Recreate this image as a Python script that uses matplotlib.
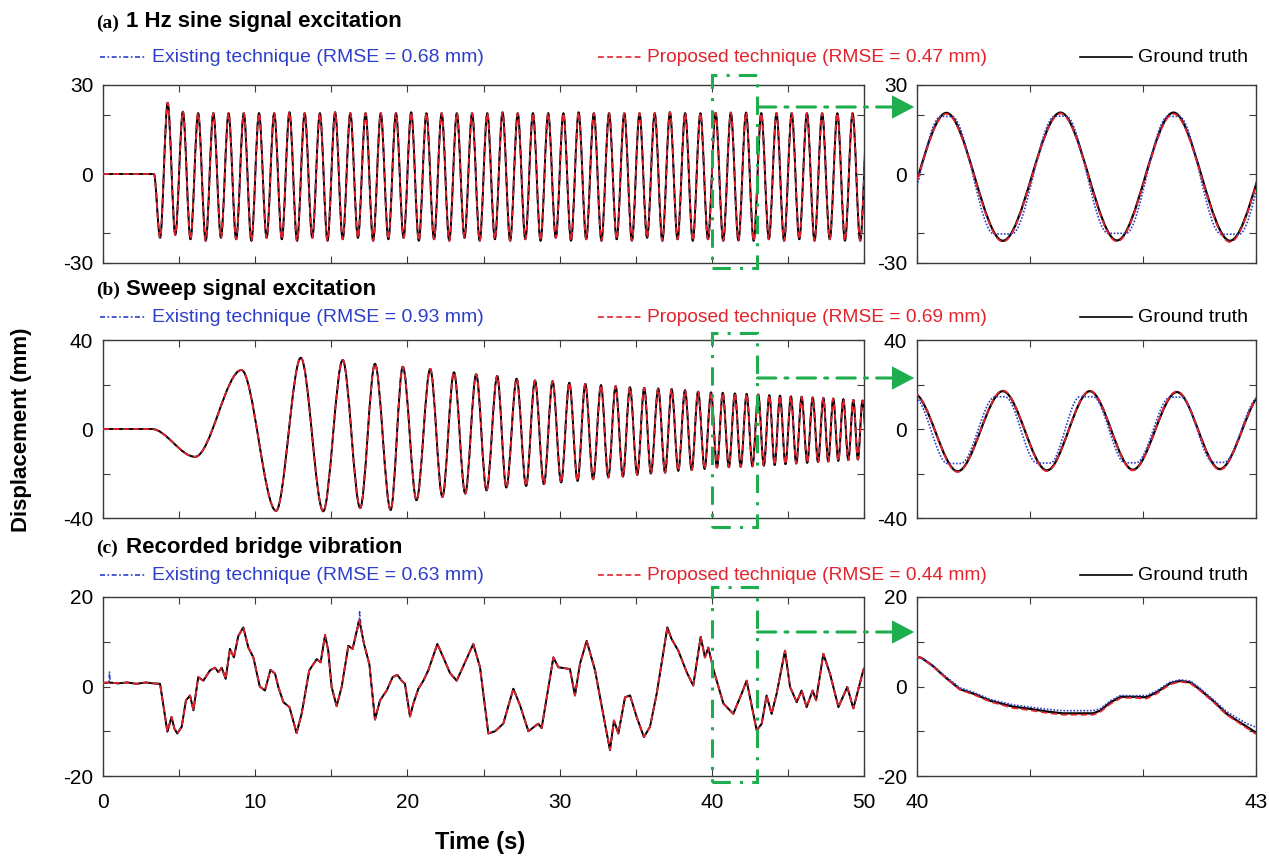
import matplotlib
matplotlib.use('Agg')
import matplotlib.pyplot as plt
from matplotlib.path import Path
from matplotlib.patches import PathPatch, Rectangle, ConnectionPatch, FancyArrowPatch
from matplotlib.lines import Line2D
from matplotlib import transforms

plt.rcParams['font.family'] = ['Liberation Sans', 'DejaVu Sans']

# ---------------- data ----------------
titles = ['1 Hz sine signal excitation', 'Sweep signal excitation', 'Recorded bridge vibration']
letters = ['(a)', '(b)', '(c)']
rmse_existing = [0.68, 0.93, 0.63]
rmse_proposed = [0.47, 0.69, 0.44]
y_limits = [30, 40, 20]
y_minor = [20, 20, 10]

# (a) 1 Hz sine: extrema (time s, displacement mm)
sine_extrema = [
    (0, 0), (3.35, 0), (3.75, -21.5), (4.25, 24), (4.75, -20.5), (5.25, 21), (5.75, -22),
    (6.25, 20.5), (6.75, -22.5), (7.25, 20.5), (7.75, -21.5), (8.25, 20.5), (8.75, -22),
    (9.25, 20.5), (9.75, -22.5), (10.25, 20.5), (10.75, -21.5), (11.25, 20.5), (11.75, -22),
    (12.25, 20.8), (12.75, -22.5), (13.25, 20.5), (13.75, -21.5), (14.25, 20.5), (14.75, -22.5),
    (15.25, 20.8), (15.75, -22), (16.25, 20.5), (16.75, -21.5), (17.25, 20.5), (17.75, -22.5),
    (18.25, 20.5), (18.75, -22), (19.25, 20.5), (19.75, -21.5), (20.25, 20.8), (20.75, -22.5),
    (21.25, 20.5), (21.75, -22), (22.25, 20.5), (22.75, -22.5), (23.25, 20.5), (23.75, -21.5),
    (24.25, 20.5), (24.75, -22.5), (25.25, 20.5), (25.75, -22), (26.25, 20.8), (26.75, -22.5),
    (27.25, 20.5), (27.75, -22), (28.25, 20.5), (28.75, -22.5), (29.25, 20.5), (29.75, -21.5),
    (30.25, 20.5), (30.75, -22.5), (31.25, 20.8), (31.75, -22), (32.25, 20.5), (32.75, -22.5),
    (33.25, 20.5), (33.75, -22), (34.25, 20.5), (34.75, -22.5), (35.25, 20.5), (35.75, -21.5),
    (36.25, 20.5), (36.75, -22.5), (37.25, 20.8), (37.75, -22), (38.25, 20.5), (38.75, -22.5),
    (39.25, 20.5), (39.75, -22), (40.25, 20.6), (40.75, -22.5), (41.25, 20.7), (41.75, -22.4),
    (42.25, 20.7), (42.75, -22.5), (43.25, 20.5), (43.75, -22), (44.25, 20.5), (44.75, -22.5),
    (45.25, 20.5), (45.75, -22), (46.25, 20.5), (46.75, -22.5), (47.25, 20.5), (47.75, -22),
    (48.25, 20.5), (48.75, -22.5), (49.25, 20.5), (49.75, -22.5), (50.25, 20.5),
]

# (b) sweep: extrema (time s, displacement mm)
sweep_extrema = [
    (0, 0), (3.2, 0), (6.05, -12.5), (9.1, 26.5), (11.37, -36.8), (13.0, 32), (14.47, -37),
    (15.75, 31), (16.9, -35.5), (17.87, 29.3), (18.9, -36.4), (19.7, 28), (20.6, -32),
    (21.5, 27), (22.3, -30.5), (23.06, 25.5), (23.8, -29), (24.52, 24.6), (25.2, -27.6),
    (25.9, 23.8), (26.5, -26.3), (27.18, 22.6), (27.8, -25.6), (28.38, 21.8), (28.97, -24.8),
    (29.54, 21.5), (30.1, -24), (30.64, 20.8), (31.18, -23.3), (31.69, 20.3), (32.2, -22.6),
    (32.72, 19.7), (33.2, -21.8), (33.68, 19.3), (34.16, -21.4), (34.62, 18.8), (35.1, -20.6),
    (35.56, 18.5), (36.0, -20), (36.48, 18.2), (36.93, -19.6), (37.36, 17.9), (37.8, -18.8),
    (38.24, 17.4), (38.68, -18.5), (39.1, 16.8), (39.53, -18), (39.95, 16.5), (40.34, -17.3),
    (40.72, 16.3), (41.12, -17.2), (41.52, 16.0), (41.9, -17.0), (42.29, 15.8), (42.67, -16.8),
    (43.05, 15.5), (43.42, -16.5), (43.78, 15.2), (44.13, -16.2), (44.48, 15.0), (44.84, -15.8),
    (45.2, 14.7), (45.55, -15.5), (45.9, 14.5), (46.27, -15.2), (46.63, 14.2), (46.98, -14.9),
    (47.33, 14.0), (47.65, -14.6), (47.98, 13.7), (48.31, -14.3), (48.64, 13.4), (48.97, -14.0),
    (49.3, 13.1), (49.6, -13.7), (49.9, 12.8), (50.25, -13.5),
]

# (c) recorded bridge vibration (time s, displacement mm)
bridge_points = [
    (0.0, 0.8), (0.4, 0.9), (1.0, 0.7), (1.6, 0.9), (2.2, 0.6), (2.8, 0.9), (3.3, 0.7),
    (3.75, 0.6), (4.0, -5), (4.23, -10.1), (4.5, -6.8), (4.7, -9.5), (4.88, -10.5), (5.17, -9),
    (5.45, -3.1), (5.72, -2), (5.94, -5.3), (6.26, 2.1), (6.59, 1.3), (7.03, 3.6), (7.36, 4.2),
    (7.58, 3.2), (7.8, 4.2), (8.06, 1.7), (8.34, 8.4), (8.6, 6.5), (8.89, 11.3), (9.22, 13.2),
    (9.55, 8.7), (9.88, 6.5), (10.3, 0), (10.64, -0.9), (11.0, 3.7), (11.3, 2.9), (11.52, -0.1),
    (11.85, -3.5), (12.25, -4.6), (12.72, -10.4), (13.05, -6.1), (13.55, 3.6), (14.04, 6.1),
    (14.3, 5.4), (14.59, 11.5), (14.8, 8), (15.02, -0.1), (15.35, -4.4), (15.68, -0.1),
    (16.12, 9.1), (16.4, 8.4), (16.84, 14.8), (17.15, 9.5), (17.5, 5), (17.87, -7.4),
    (18.2, -3.1), (18.64, -0.9), (19.03, 2.1), (19.34, 2.6), (19.62, 1.3), (19.84, 0.6),
    (20.17, -6.7), (20.39, -3.8), (20.72, -0.5), (21.05, 1.3), (21.37, 3.6), (21.97, 9.5),
    (22.36, 6.5), (22.8, 3.0), (23.24, 1.3), (23.68, 4.6), (24.33, 9.5), (24.77, 4.3),
    (25.32, -10.5), (25.76, -10), (26.3, -8.3), (26.96, -0.5), (27.4, -4.2), (27.95, -10),
    (28.6, -8.3), (28.82, -9.3), (29.59, 6.5), (29.92, 4.3), (30.68, 3.9), (31.01, -2),
    (31.34, 5.1), (31.78, 10.2), (32.33, 3.6), (32.98, -8.3), (33.31, -14.2), (33.57, -7.6),
    (33.86, -10.5), (34.3, -2.4), (34.63, -2), (35.06, -6.8), (35.54, -11.3), (35.94, -9),
    (36.38, -1.6), (37.08, 13.2), (37.36, 10.6), (37.8, 8), (38.35, 3.2), (38.78, 0.2),
    (39.27, 11.1), (39.55, 6.5), (39.77, 8.7), (40.1, 3.9), (40.76, -3.8), (41.41, -6.1),
    (41.96, -1.6), (42.29, 1.3), (42.95, -9.8), (43.28, -8.3), (43.6, -2), (43.93, -6.1),
    (44.26, -1.6), (44.81, 8), (45.14, -0.1), (45.58, -3.5), (45.9, -0.9), (46.23, -4.6),
    (46.63, -0.9), (46.85, -3.1), (47.33, 7.3), (47.77, 2.8), (48.32, -4.6), (48.9, -0.1),
    (49.3, -4.9), (49.95, 3.6), (50.0, 4.0),
]
# spikes only present in the existing-technique trace
bridge_existing_extra = [(0.35, 0.8), (0.42, 3.4), (0.48, 0.8), (16.78, 14.6), (16.86, 16.7), (16.92, 14.5)]

# zoomed windows 40-43 s
sine_zoom_truth = [(39.76, -22.3), (40.26, 20.6), (40.76, -22.5), (41.27, 20.7), (41.77, -22.4),
                   (42.27, 20.7), (42.77, -22.5), (43.27, 20.5)]
sine_zoom_proposed = [(39.76, -22.6), (40.26, 20.3), (40.76, -22.8), (41.27, 20.4), (41.77, -22.7),
                      (42.27, 20.3), (42.77, -22.9), (43.27, 20.3)]
sine_zoom_existing = [(39.68, -20), (39.84, -20), (40.21, 19.4), (40.31, 19.4), (40.68, -20.2),
                      (40.84, -20.2), (41.22, 19.5), (41.32, 19.5), (41.69, -20), (41.85, -20),
                      (42.22, 19.4), (42.32, 19.4), (42.69, -20.3), (42.85, -20.3), (43.22, 19.5)]

sweep_zoom_truth = [(39.97, 16.0), (40.36, -19.0), (40.76, 17.0), (41.15, -18.6), (41.53, 17.0),
                    (41.91, -18.3), (42.30, 16.6), (42.68, -18.0), (43.07, 16.5)]
sweep_zoom_proposed = [(39.97, 16.2), (40.36, -19.3), (40.76, 17.3), (41.15, -18.9), (41.53, 17.2),
                       (41.91, -18.6), (42.30, 16.9), (42.68, -18.3), (43.07, 16.7)]
sweep_zoom_existing = [(39.90, 14.2), (39.98, 14.2), (40.27, -15.5), (40.39, -15.5), (40.69, 14.5),
                       (40.78, 14.5), (41.06, -15.3), (41.18, -15.3), (41.44, 14.5), (41.56, 14.5),
                       (41.84, -15.2), (41.94, -15.2), (42.24, 14.3), (42.34, 14.3), (42.62, -15.0),
                       (42.72, -15.0), (43.02, 14.0), (43.12, 14.0)]

bridge_zoom_truth = [(40.0, 6.6), (40.04, 6.4), (40.14, 4.6), (40.26, 1.85), (40.38, -0.6),
                     (40.50, -1.6), (40.65, -3.2), (40.85, -4.5), (41.0, -5.0), (41.15, -5.6),
                     (41.29, -6.0), (41.56, -6.0), (41.62, -5.4), (41.71, -3.6), (41.80, -2.3),
                     (41.91, -2.3), (42.03, -2.4), (42.12, -1.3), (42.24, 0.7), (42.33, 1.26),
                     (42.42, 0.9), (42.50, -0.6), (42.62, -3.2), (42.74, -6.1), (42.83, -7.6),
                     (42.92, -9.0), (43.0, -10.3)]
bridge_zoom_proposed = [(40.0, 6.6), (40.04, 6.4), (40.14, 4.5), (40.26, 1.8), (40.38, -0.7),
                        (40.50, -1.8), (40.65, -3.4), (40.85, -4.8), (41.0, -5.3), (41.15, -5.9),
                        (41.29, -6.3), (41.56, -6.3), (41.62, -5.7), (41.71, -3.9), (41.80, -2.6),
                        (41.91, -2.5), (42.03, -2.7), (42.12, -1.6), (42.24, 0.5), (42.33, 1.1),
                        (42.42, 0.7), (42.50, -0.8), (42.62, -3.4), (42.74, -6.3), (42.83, -7.8),
                        (42.92, -9.3), (43.0, -10.6)]
bridge_zoom_existing = [(40.0, 6.6), (40.04, 6.4), (40.14, 4.7), (40.26, 2.1), (40.38, -0.3),
                        (40.50, -1.3), (40.65, -2.9), (40.85, -4.1), (41.0, -4.6), (41.15, -5.1),
                        (41.29, -5.4), (41.56, -5.4), (41.62, -5.0), (41.71, -3.2), (41.80, -2.0),
                        (41.91, -2.1), (42.03, -2.0), (42.12, -1.0), (42.24, 1.0), (42.33, 1.5),
                        (42.42, 1.2), (42.50, -0.3), (42.62, -2.9), (42.74, -5.6), (42.83, -7.0),
                        (42.92, -8.3), (43.0, -9.1)]

# ---------------- styling ----------------
C_TRUTH = 'black'
C_EXIST = '#2d3fc9'
C_PROP = '#e3232c'
C_GREEN = '#1fae4e'
LS_EXIST = (0, (3, 1.5, 1, 1.5))
LS_PROP = (0, (3.5, 2))
LS_GREEN = (0, (6, 3, 1, 3))

W, H = 1269, 856
fig = plt.figure(figsize=(W / 100, H / 100), dpi=100)


def fx(px):
    return px / W


def fy(py):
    return 1 - py / H


def smooth_path(points):
    # cubic segments with flat tangents at every extremum
    t = [p[0] for p in points]
    v = [p[1] for p in points]
    verts, codes = [(t[0], v[0])], [Path.MOVETO]
    for i in range(len(t) - 1):
        d = (t[i + 1] - t[i]) / 3.0
        verts += [(t[i] + d, v[i]), (t[i + 1] - d, v[i + 1]), (t[i + 1], v[i + 1])]
        codes += [Path.CURVE4] * 3
    return Path(verts, codes)


def draw_smooth(ax, points, color, lw, ls, z):
    ax.add_patch(PathPatch(smooth_path(points), fill=False, edgecolor=color, lw=lw,
                           linestyle=ls, zorder=z, joinstyle='round'))


def draw_poly(ax, points, color, lw, ls, z):
    ax.plot([p[0] for p in points], [p[1] for p in points], color=color, lw=lw, ls=ls, zorder=z)


def style_axes(ax):
    for s in ax.spines.values():
        s.set_color('#3a3a3a')
        s.set_linewidth(1.0)
    ax.tick_params(direction='in', length=5, width=0.8, top=True, right=True,
                   labelsize=15, colors='#3a3a3a', labelcolor='black')
    ax.tick_params(axis='y', pad=7)
    ax.tick_params(axis='x', pad=12)


# pixel layout of each row: axes top, axes bottom, title y, legend y, green box top/bottom, arrow y
rows = [
    dict(top=85, bot=263, title=22, legend=57, box_top=75, box_bot=268, arrow=107),
    dict(top=340, bot=518, title=289, legend=317, box_top=333, box_bot=527, arrow=378),
    dict(top=597, bot=776, title=547, legend=575, box_top=587, box_bot=782, arrow=632),
]

main_data = [sine_extrema, sweep_extrema, bridge_points]
zoom_data = [
    (sine_zoom_truth, sine_zoom_existing, sine_zoom_proposed),
    (sweep_zoom_truth, sweep_zoom_existing, sweep_zoom_proposed),
    (bridge_zoom_truth, bridge_zoom_existing, bridge_zoom_proposed),
]

for i, r in enumerate(rows):
    h = (r['bot'] - r['top']) / H
    ax = fig.add_axes([fx(103), fy(r['bot']), fx(864) - fx(103), h])
    axz = fig.add_axes([fx(917), fy(r['bot']), fx(1256) - fx(917), h])
    lim = y_limits[i]

    if i < 2:
        pts = main_data[i]
        draw_smooth(ax, pts, C_EXIST, 1.1, LS_EXIST, 1)
        draw_smooth(ax, pts, C_TRUTH, 1.4, '-', 2)
        draw_smooth(ax, pts, C_PROP, 1.3, LS_PROP, 4)
        truth, exist, prop = zoom_data[i]
        draw_smooth(axz, truth, C_TRUTH, 1.6, '-', 2)
        draw_smooth(axz, exist, C_EXIST, 1.2, (0, (1, 1)), 3)
        draw_smooth(axz, prop, C_PROP, 1.3, LS_PROP, 4)
    else:
        existing_pts = sorted(bridge_points + bridge_existing_extra)
        draw_poly(ax, existing_pts, C_EXIST, 1.1, LS_EXIST, 1)
        draw_poly(ax, bridge_points, C_TRUTH, 1.4, '-', 2)
        draw_poly(ax, bridge_points, C_PROP, 1.3, LS_PROP, 4)
        truth, exist, prop = zoom_data[i]
        draw_poly(axz, truth, C_TRUTH, 1.6, '-', 2)
        draw_poly(axz, exist, C_EXIST, 1.2, (0, (1, 1)), 3)
        draw_poly(axz, prop, C_PROP, 1.3, LS_PROP, 4)

    ax.set_xlim(0, 50)
    axz.set_xlim(40, 43)
    yt = [-lim, -y_minor[i], 0, y_minor[i], lim]
    ylab = [str(-lim), '', '0', '', str(lim)]
    for a in (ax, axz):
        a.set_ylim(-lim, lim)
        a.set_yticks(yt)
        a.set_yticklabels(ylab)
        style_axes(a)
    ax.set_xticks(range(0, 51, 5))
    axz.set_xticks([40, 41, 42, 43])
    if i == 2:
        ax.set_xticklabels([str(v) if v % 10 == 0 else '' for v in range(0, 51, 5)])
        axz.set_xticklabels(['40', '', '', '43'])
    else:
        ax.set_xticklabels([])
        axz.set_xticklabels([])

    # titles
    fig.text(fx(96), fy(r['title'] + 1), letters[i], family=['Liberation Serif', 'DejaVu Serif'],
             fontweight='bold', fontsize=14, va='center', ha='left')
    fig.text(fx(126), fy(r['title']), titles[i], fontweight='bold', fontsize=16,
             va='center', ha='left')

    # legend row
    ly = fy(r['legend'])
    fig.add_artist(Line2D([fx(100), fx(145)], [ly, ly], color=C_EXIST, lw=1.2, ls=LS_EXIST))
    fig.text(fx(152), ly, 'Existing technique (RMSE = %.2f mm)' % rmse_existing[i],
             color=C_EXIST, fontsize=14, va='center', ha='left')
    fig.add_artist(Line2D([fx(598), fx(641)], [ly, ly], color=C_PROP, lw=1.2, ls=LS_PROP))
    fig.text(fx(647), ly, 'Proposed technique (RMSE = %.2f mm)' % rmse_proposed[i],
             color=C_PROP, fontsize=13.8, va='center', ha='left')
    fig.add_artist(Line2D([fx(1080), fx(1132)], [ly, ly], color=C_TRUTH, lw=1.2))
    fig.text(fx(1138), ly, 'Ground truth', color='black', fontsize=14, va='center', ha='left')

    # green zoom box and arrow
    blend = transforms.blended_transform_factory(ax.transData, fig.transFigure)
    fig.add_artist(Rectangle((40, fy(r['box_bot'])), 3, (r['box_bot'] - r['box_top']) / H,
                             transform=blend, fill=False, edgecolor=C_GREEN, lw=2.2,
                             linestyle=LS_GREEN))
    blend_z = transforms.blended_transform_factory(axz.transAxes, fig.transFigure)
    ay = fy(r['arrow'])
    fig.add_artist(ConnectionPatch(xyA=(43, ay), coordsA=blend, xyB=(-0.06, ay), coordsB=blend_z,
                                   color=C_GREEN, lw=2.2, linestyle=LS_GREEN))
    fig.add_artist(FancyArrowPatch((-0.065, ay), (0, ay), transform=blend_z,
                                   arrowstyle='-|>,head_length=0.8,head_width=0.42',
                                   mutation_scale=20, color=C_GREEN, lw=0))

fig.text(fx(22), fy(430), 'Displacement (mm)', rotation=90, fontweight='bold', fontsize=16,
         va='center', ha='center')
fig.text(fx(480), fy(843), 'Time (s)', fontweight='bold', fontsize=17, va='center', ha='center')

fig.savefig('out.png', dpi=100)
